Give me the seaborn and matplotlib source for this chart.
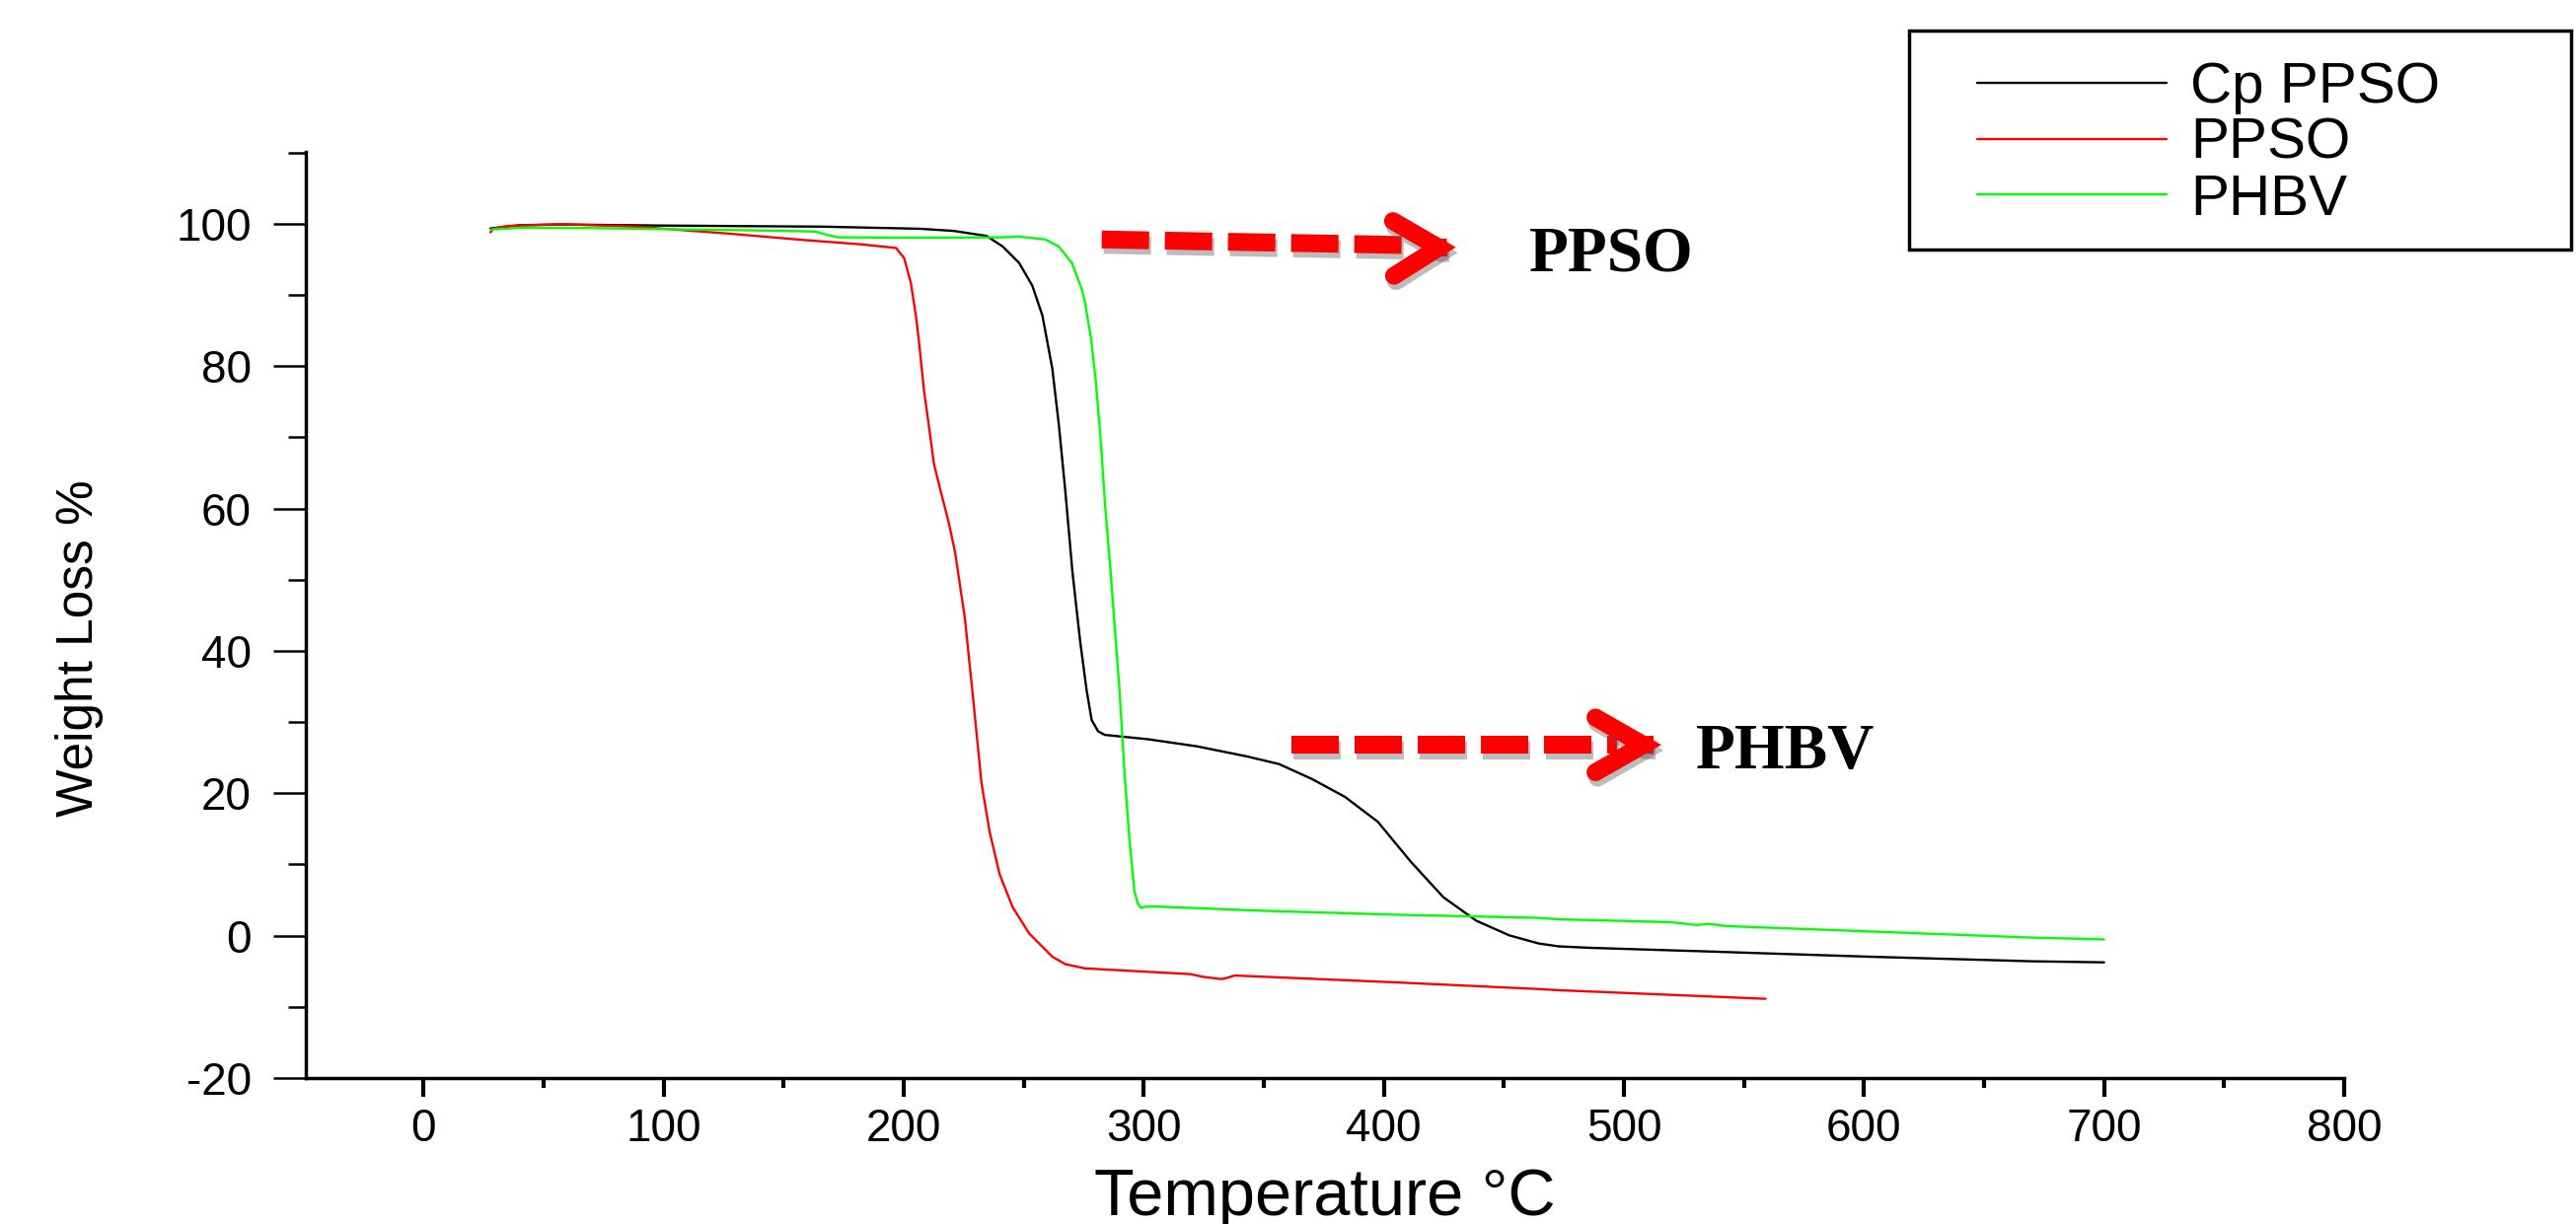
import numpy as np
import pandas as pd
import seaborn as sns
import matplotlib
matplotlib.use("Agg")
import matplotlib.pyplot as plt
from matplotlib import patheffects
from matplotlib.lines import Line2D
from matplotlib.patches import Rectangle
from matplotlib.ticker import MultipleLocator
from matplotlib.transforms import ScaledTranslation

# ---- TGA curves (temperature in degC, weight in %) ----
cp_ppso_t = [27.9, 40, 57.7, 100, 166, 207, 220.8, 234.5, 241.3, 248.1, 253.6, 257.8,
             261.9, 264.6, 267.3, 270.3, 273.5, 276.2, 278.3, 281, 283.8, 301.6, 322.1,
             342.7, 356.4, 370.1, 383.8, 397.5, 411.2, 424.8, 438.5, 452.2, 464.5, 472.8,
             485.1, 533, 601.5, 670, 700]
cp_ppso_w = [99.35, 99.8, 99.9, 99.75, 99.6, 99.3, 99.0, 98.3, 96.8, 94.5, 91.3, 87.1,
             79.7, 71.9, 62.6, 51.1, 41.4, 34.5, 30.3, 28.7, 28.2, 27.6, 26.6,
             25.2, 24.1, 22.0, 19.5, 16.0, 10.4, 5.4, 2.1, 0.05, -1.1, -1.5,
             -1.7, -2.2, -2.95, -3.6, -3.75]

ppso_t = [27.9, 29, 35, 57.7, 88.4, 126.1, 159.2, 182.7, 196.9, 198.2, 200.2, 203,
          205.1, 206.4, 208.5, 210.6, 212.6, 215.3, 218.8, 221.4, 225.5, 229, 232.4,
          235.8, 240, 245.4, 252.3, 261.9, 267.3, 275.5, 281, 319.4, 324.9, 332.4,
          335, 337.9, 404.3, 464.5, 472.8, 559]
ppso_w = [98.8, 99.3, 99.7, 99.95, 99.6, 98.65, 97.7, 97.1, 96.6, 96.0, 95.2, 91.7,
          87.1, 83.4, 76.5, 71.4, 66.3, 62.6, 58.0, 53.9, 44.6, 33.1, 21.5,
          14.6, 8.6, 4.0, 0.3, -2.95, -4.0, -4.6, -4.7, -5.4, -5.8, -6.1,
          -5.9, -5.6, -6.55, -7.5, -7.66, -8.87]

phbv_t = [27.9, 41.2, 70.1, 152.3, 163.2, 168.7, 172.8, 207, 241.3, 248.1, 259.1,
          264.6, 270.1, 274.2, 275.5, 278, 280, 282, 284, 286, 288, 289.9, 292, 294,
          296.1, 297.5, 298.9, 300.5, 304.3, 349.5, 404.3, 464.5, 472.8, 519.3, 530.2,
          535.6, 542.5, 601.5, 670, 700]
phbv_w = [99.2, 99.45, 99.4, 99.0, 98.9, 98.4, 98.1, 98.05, 98.1, 98.2, 97.8,
          96.8, 94.5, 90.8, 89.0, 84, 78, 70, 60, 52, 43, 34.5, 22.9, 13.7,
          6.3, 4.5, 3.9, 4.05, 4.1, 3.5, 2.95, 2.5, 2.3, 1.9, 1.5,
          1.66, 1.35, 0.6, -0.27, -0.53]

series_names = ["Cp PPSO", "PPSO", "PHBV"]
series_colors = ["#000000", "#ff0000", "#00ff00"]
x_ticks = [0, 100, 200, 300, 400, 500, 600, 700, 800]
y_ticks = [-20, 0, 20, 40, 60, 80, 100]

df = pd.concat([
    pd.DataFrame({"Temperature": cp_ppso_t, "Weight": cp_ppso_w, "Sample": series_names[0]}),
    pd.DataFrame({"Temperature": ppso_t, "Weight": ppso_w, "Sample": series_names[1]}),
    pd.DataFrame({"Temperature": phbv_t, "Weight": phbv_w, "Sample": series_names[2]}),
], ignore_index=True)
palette = dict(zip(series_names, series_colors))

sns.set_style("ticks")
plt.rcParams["font.family"] = ["Liberation Sans", "DejaVu Sans"]
plt.rcParams["text.color"] = "black"
plt.rcParams["axes.labelcolor"] = "black"
plt.rcParams["xtick.color"] = "black"
plt.rcParams["ytick.color"] = "black"
plt.rcParams["axes.unicode_minus"] = False

W, H = 2611, 1241
fig = plt.figure(figsize=(W / 100, H / 100), dpi=100)
ax = fig.add_axes([310 / W, 1 - 1093 / H, 2066 / W, 939 / H])

sns.lineplot(data=df, x="Temperature", y="Weight", hue="Sample", hue_order=series_names,
             palette=palette, sort=False, estimator=None, linewidth=1.7, legend=False, ax=ax)

ax.set_xlim(-49, 800)
ax.set_ylim(-20, 110.1)
ax.set_xticks(x_ticks)
ax.set_yticks(y_ticks)
ax.xaxis.set_minor_locator(MultipleLocator(50))
ax.yaxis.set_minor_locator(MultipleLocator(10))
sns.despine(ax=ax)
for s in ["left", "bottom"]:
    ax.spines[s].set_linewidth(2.5)
    ax.spines[s].set_color("black")
ax.tick_params(axis="x", which="major", direction="out", length=13.7, width=3, pad=8,
               labelsize=33)
ax.tick_params(axis="x", which="minor", direction="out", length=7.2, width=3)
ax.tick_params(axis="y", which="major", direction="out", length=23.8, width=1.8, pad=16,
               labelsize=33)
ax.tick_params(axis="y", which="minor", direction="out", length=13, width=1.8)
ax.grid(False)

ax.set_xlabel("Temperature °C", fontsize=48)
ax.xaxis.label.set_va("baseline")
ax.xaxis.set_label_coords(0.5, -0.148)
ax.set_ylabel("Weight Loss %", fontsize=37)
ax.yaxis.label.set_va("center")
ax.yaxis.set_label_coords(-0.1113, 0.464)

# ---- legend with its own frame ----
handles = [Line2D([], [], color=c, lw=1.7) for c in series_colors]
ax.legend(handles, series_names, loc="upper left", bbox_to_anchor=(2004 / W, 1 - 62 / H),
          bbox_transform=fig.transFigure, frameon=False, fontsize=42, handlelength=3.29,
          handletextpad=0.41, labelspacing=0.05, borderpad=0, borderaxespad=0,
          handleheight=0.7)
fig.patches.append(Rectangle((1935 / W, 1 - 253 / H), 671 / W, 222 / H,
                             transform=fig.transFigure, fill=False, lw=2.5,
                             edgecolor="black"))

# ---- red dashed callout arrows with a soft drop shadow ----
shaft_lw = 13          # points
dash_px, gap_px = 48, 16
shadow_shift = ScaledTranslation(1.5 / 72, -4 / 72, fig.dpi_scale_trans)
head_shadow = [patheffects.SimpleLineShadow(offset=(1.5, -4), shadow_color="0.35", alpha=0.4),
               patheffects.Normal()]


def dashed_shaft(x0, y0, x1, y1):
    """Draw the shaft as separate butt-capped dashes (with shadow copies)."""
    p0, p1 = ax.transData.transform([(x0, y0), (x1, y1)])
    length = np.hypot(*(p1 - p0))
    unit = (p1 - p0) / length
    pos = 0.0
    inv = ax.transData.inverted()
    while pos < length:
        end = min(pos + dash_px, length)
        a, b = inv.transform([p0 + unit * pos, p0 + unit * end])
        for color, alpha, tr, z in [("0.35", 0.4, ax.transData + shadow_shift, 3),
                                    ("red", 1.0, ax.transData, 3.1)]:
            ax.add_line(Line2D([a[0], b[0]], [a[1], b[1]], color=color, alpha=alpha,
                               lw=shaft_lw, solid_capstyle="butt", transform=tr, zorder=z))
        pos += dash_px + gap_px


def callout(x0, y0, x1, y1, tip_x, tip_y, head_len, label, label_x, label_y):
    dashed_shaft(x0, y0, x1, y1)
    ax.annotate("", xy=(tip_x, tip_y), xytext=(tip_x - 4, tip_y + (y1 - y0) * 4 / (x1 - x0)),
                arrowprops=dict(arrowstyle=f"->,head_length={head_len},head_width=20",
                                color="red", lw=13, shrinkA=0, shrinkB=0,
                                mutation_scale=1, capstyle="round", joinstyle="miter",
                                path_effects=head_shadow), zorder=3.2)
    ax.text(label_x, label_y, label, fontsize=47, fontweight="bold",
            family=["Liberation Serif", "DejaVu Serif"], ha="left", va="baseline",
            color="black")


callout(282.5, 97.8, 410.9, 97.0, 430.0, 96.7, 33, "PPSO", 460.4, 93.35)
callout(361.4, 26.8, 497.0, 26.8, 515.6, 26.8, 35, "PHBV", 529.9, 23.5)

fig.savefig("out.png", dpi=100, facecolor="white")
